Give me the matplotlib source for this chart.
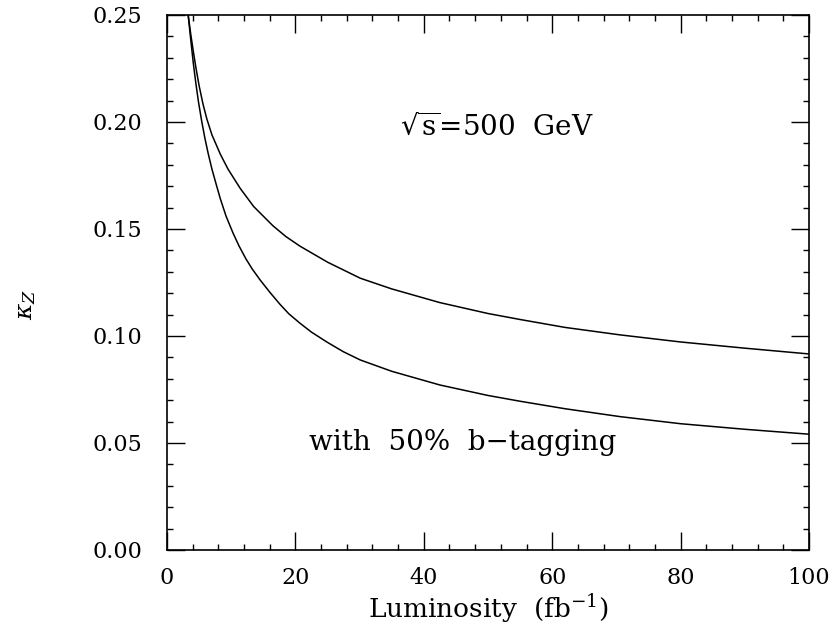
import matplotlib
matplotlib.use("Agg")
import matplotlib.pyplot as plt
from matplotlib.ticker import MultipleLocator

# values
lumi_upper = [3.3, 3.7, 4.1, 4.5, 5.0, 5.6, 6.2, 7.0, 8.3, 9.5, 11.4, 13.5,
              16.5, 18.5, 20.7, 25, 30.1, 35, 42.5, 50, 55, 62, 70.6, 80, 90, 100]
kappa_upper = [0.250, 0.241, 0.233, 0.2255, 0.217, 0.2085, 0.2015, 0.1940,
               0.1850, 0.1780, 0.1690, 0.1605, 0.1515, 0.1465, 0.1420, 0.1345,
               0.127, 0.122, 0.1156, 0.1105, 0.1077, 0.1040, 0.1005, 0.0972,
               0.0943, 0.0916]

lumi_lower = [3.3, 3.7, 4.1, 4.5, 4.9, 5.4, 5.9, 6.4, 7.0, 7.7, 8.3, 9.2, 10.3,
              11.2, 12.3, 13.3, 14.5, 16, 17.6, 19, 20.7, 22.5, 25, 27.5, 30.1,
              35, 42.5, 50, 55, 62, 70.6, 80, 90, 100]
kappa_lower = [0.250, 0.2385, 0.2275, 0.2180, 0.2095, 0.2005, 0.1925, 0.1855,
               0.1780, 0.1705, 0.1642, 0.1560, 0.1480, 0.1422, 0.1360, 0.1312,
               0.1262, 0.1205, 0.1148, 0.1103, 0.1060, 0.1018, 0.0970, 0.0926,
               0.0888, 0.0835, 0.0771, 0.0722, 0.0695, 0.0660, 0.0623, 0.0590,
               0.0564, 0.0541]

plt.rcParams["font.family"] = "DejaVu Serif"
plt.rcParams["mathtext.fontset"] = "dejavuserif"

fig = plt.figure(figsize=(8.32, 6.35), dpi=100)
ax = fig.add_axes([0.2007, 0.1339, 0.7717, 0.8425])

ax.plot(lumi_upper, kappa_upper, color="black", lw=1.1)
ax.plot(lumi_lower, kappa_lower, color="black", lw=1.1)

ax.set_xlim(0, 100)
ax.set_ylim(0, 0.25)

ax.xaxis.set_major_locator(MultipleLocator(20))
ax.xaxis.set_minor_locator(MultipleLocator(4))
ax.yaxis.set_major_locator(MultipleLocator(0.05))
ax.yaxis.set_minor_locator(MultipleLocator(0.01))
ax.yaxis.set_major_formatter(plt.FuncFormatter(lambda v, p: f"{v:.2f}"))

ax.tick_params(which="both", direction="in", top=True, right=True,
               width=1.0, labelsize=16)
ax.tick_params(which="major", length=13)
ax.tick_params(which="minor", length=4.3)
ax.tick_params(axis="x", which="major", pad=12)
ax.tick_params(axis="y", which="major", pad=18)
for s in ax.spines.values():
    s.set_linewidth(1.2)

ax.text(0.514, 0.79, r"$\sqrt{\rm s}$=500  GeV", transform=ax.transAxes,
        fontsize=20, ha="center", va="center")
ax.text(0.460, 0.2, "with  50%  b\u2212tagging", transform=ax.transAxes,
        fontsize=20, ha="center", va="center")

ax.set_xlabel(r"Luminosity  (fb$^{-1}$)", fontsize=19)
ax.xaxis.set_label_coords(0.5, -0.078)
ax.set_ylabel(r"$\kappa_Z$", fontsize=18)
ax.yaxis.set_label_coords(-0.201, 0.458)

fig.savefig("out.png", dpi=100)
